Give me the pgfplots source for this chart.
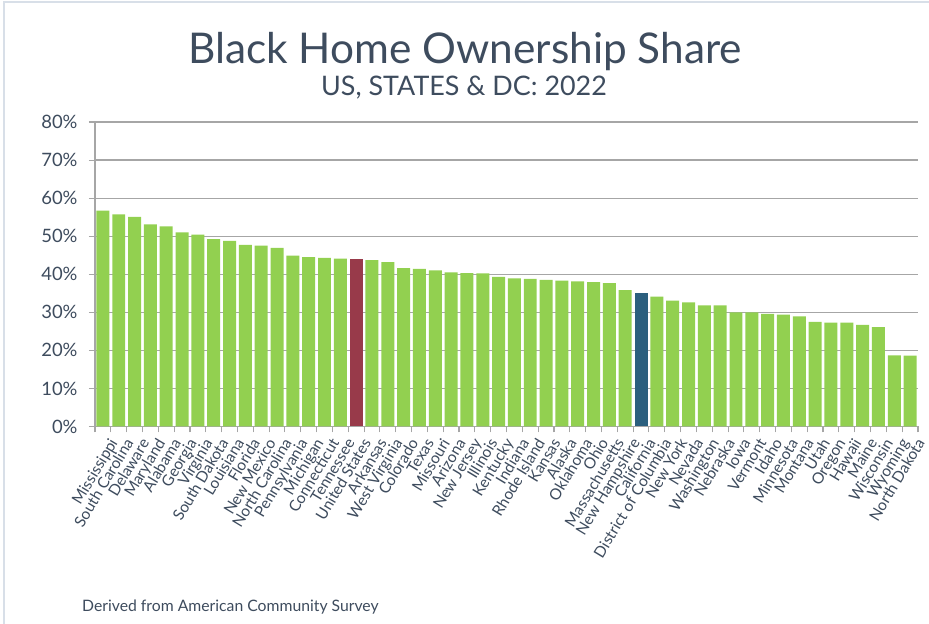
\documentclass[border=0pt]{standalone}
\usepackage{pgfplots}
\pgfplotsset{compat=1.18}
\usepackage{fontspec}
\setmainfont{Lato}
\definecolor{bargreen}{HTML}{92D050}
\definecolor{barred}{HTML}{983A4A}
\definecolor{barblue}{HTML}{2B5F7E}
\definecolor{txt}{HTML}{3E4C5E}
\definecolor{gridc}{HTML}{A6A6A6}
\definecolor{framec}{HTML}{D8DFE8}
\begin{document}
\begin{tikzpicture}
\useasboundingbox (0bp,0bp) rectangle (929bp,624bp);
\fill[white] (0bp,0bp) rectangle (929bp,624bp);
\draw[color=framec, line width=1.5bp] (4bp,0bp) -- (4bp,622bp) -- (929bp,622bp);
\node[anchor=base, inner sep=0pt, font=\fontsize{42.5}{50}\selectfont, text=txt] at (465bp,560bp) {Black Home Ownership Share};
\node[anchor=base, inner sep=0pt, font=\fontsize{27}{32}\selectfont, text=txt] at (464bp,528bp) {US, STATES \& DC: 2022};
\node[anchor=base west, inner sep=0pt, font=\fontsize{15.8}{18}\selectfont, text=txt] at (82bp,13bp) {Derived from American Community Survey};
\begin{axis}[
  at={(95bp,197.5bp)}, anchor=south west,
  scale only axis, width=823bp, height=304.5bp,
  ymin=0, ymax=80, xmin=0.5, xmax=52.5,
  ybar, bar width=0.82,
  axis x line*=bottom, axis y line*=left,
  axis line style={draw=gridc, line width=1.2bp, -},
  ytick={0,10,...,80},
  yticklabels={0\%,10\%,20\%,30\%,40\%,50\%,60\%,70\%,80\%},
  yticklabel style={font=\fontsize{18.5}{20}\selectfont, text=txt, xshift=-8bp},
  ymajorgrids, xmajorgrids=false,
  grid style={draw=gridc, line width=1.2bp},
  tick align=outside, major tick length=6bp,
  tick style={draw=gridc, line width=1.1bp},
  xtick={0.5,1.5,...,52.5}, xticklabels={},
  extra x ticks={1,2,...,52},
  extra x tick labels={Mississippi,South Carolina,Delaware,Maryland,Alabama,Georgia,Virginia,South Dakota,Louisiana,Florida,New Mexico,North Carolina,Pennsylvania,Michigan,Connecticut,Tennessee,United States,Arkansas,West Virginia,Colorado,Texas,Missouri,Arizona,New Jersey,Illinois,Kentucky,Indiana,Rhode Island,Kansas,Alaska,Oklahoma,Ohio,Massachusetts,New Hampshire,California,District of Columbia,New York,Nevada,Washington,Nebraska,Iowa,Vermont,Idaho,Minnesota,Montana,Utah,Oregon,Hawaii,Maine,Wisconsin,Wyoming,North Dakota},
  extra x tick style={major tick length=0pt, tick style={draw=none}, xmajorgrids=false,
    xticklabel style={rotate=59, anchor=north east, font=\fontsize{15.5}{18}\selectfont, text=txt, inner sep=1bp, yshift=-9bp, xshift=-5bp}},
]
\addplot[fill=bargreen, draw=none, bar shift=0pt] coordinates {
(1,56.7) (2,55.7) (3,55.1) (4,53.1) (5,52.6) (6,51.0) (7,50.4) (8,49.2) (9,48.8) (10,47.7)
(11,47.5) (12,46.9) (13,44.9) (14,44.5) (15,44.3) (16,44.1) (18,43.7) (19,43.2) (20,41.6)
(21,41.4) (22,41.0) (23,40.5) (24,40.3) (25,40.2) (26,39.3) (27,38.9) (28,38.8) (29,38.5) (30,38.3)
(31,38.1) (32,37.9) (33,37.7) (34,35.8) (36,34.1) (37,33.1) (38,32.6) (39,31.8) (40,31.8)
(41,30.0) (42,30.0) (43,29.6) (44,29.4) (45,28.9) (46,27.5) (47,27.3) (48,27.3) (49,26.7) (50,26.1)
(51,18.7) (52,18.6)};
\addplot[fill=barred, draw=none, bar shift=0pt] coordinates {(17,43.9)};
\addplot[fill=barblue, draw=none, bar shift=0pt] coordinates {(35,35.2)};
\end{axis}
\end{tikzpicture}
\end{document}
